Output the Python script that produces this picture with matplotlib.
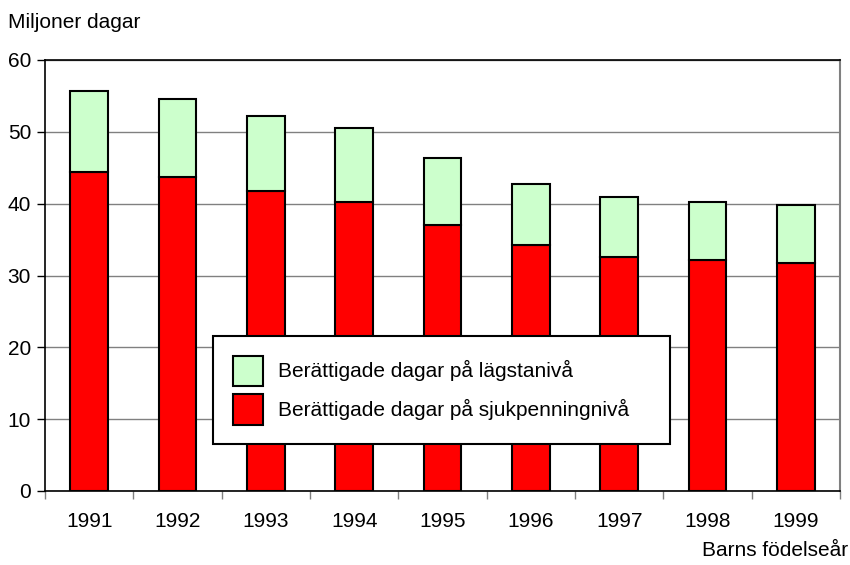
import numpy as np
import matplotlib
matplotlib.use("Agg")
import matplotlib.pyplot as plt

plt.rcParams['font.family'] = ['Liberation Sans', 'DejaVu Sans']

# Data (miljoner dagar)
years = ['1991', '1992', '1993', '1994', '1995', '1996', '1997', '1998', '1999']
sjukpenning = [44.4, 43.7, 41.7, 40.3, 37.0, 34.3, 32.6, 32.1, 31.8]
lagsta = [11.3, 10.9, 10.5, 10.2, 9.4, 8.5, 8.3, 8.2, 8.0]

fs = 15

fig = plt.figure(figsize=(8.5, 5.65), dpi=100)
ax = fig.add_axes([45 / 850, 74 / 565, 795 / 850, 431 / 565])

x = np.arange(len(years))
ax.bar(x, sjukpenning, width=0.43, color='#FF0000', edgecolor='black',
       linewidth=1.5, label='Berättigade dagar på sjukpenningnivå', zorder=3)
ax.bar(x, lagsta, width=0.43, bottom=sjukpenning, color='#CCFFCC',
       edgecolor='black', linewidth=1.5,
       label='Berättigade dagar på lägstanivå', zorder=3)

ax.set_xlim(-0.5, len(years) - 0.5)
ax.set_ylim(0, 60)
ax.set_yticks(range(0, 61, 10))
ax.yaxis.grid(True, color='#808080', linewidth=1)
ax.set_axisbelow(True)

ax.set_xticks(x)
ax.set_xticklabels(years)
ax.set_xticks(np.arange(-0.5, len(years)), minor=True)
ax.tick_params(axis='x', which='major', length=0, pad=15, labelsize=fs)
ax.tick_params(axis='x', which='minor', length=6, width=1, color='#808080')
ax.tick_params(axis='y', length=6, width=1, labelsize=fs, pad=4)

for s in ['left', 'bottom', 'top']:
    ax.spines[s].set_color('black')
    ax.spines[s].set_linewidth(1.2)
ax.spines['right'].set_color('#808080')
ax.spines['right'].set_linewidth(1.5)

handles, labels = ax.get_legend_handles_labels()
leg = ax.legend(handles[::-1], labels[::-1], loc='upper left',
                bbox_to_anchor=(213 / 850, 1 - 443 / 565, 457 / 850, 107 / 565),
                bbox_transform=fig.transFigure, mode='expand',
                fontsize=fs, frameon=True, fancybox=False, shadow=False,
                handlelength=1.45, handleheight=1.87, handletextpad=0.75,
                labelspacing=0.4, borderpad=0.94, borderaxespad=0,
                framealpha=1)
leg.get_frame().set_edgecolor('black')
leg.get_frame().set_linewidth(1.5)
leg.set_zorder(5)

fig.text(8 / 850, 1 - 22 / 565, 'Miljoner dagar', fontsize=fs,
         ha='left', va='center')
fig.text(848 / 850, 1 - 550 / 565, 'Barns födelseår', fontsize=fs,
         ha='right', va='center')

fig.savefig('out.png', dpi=100)
